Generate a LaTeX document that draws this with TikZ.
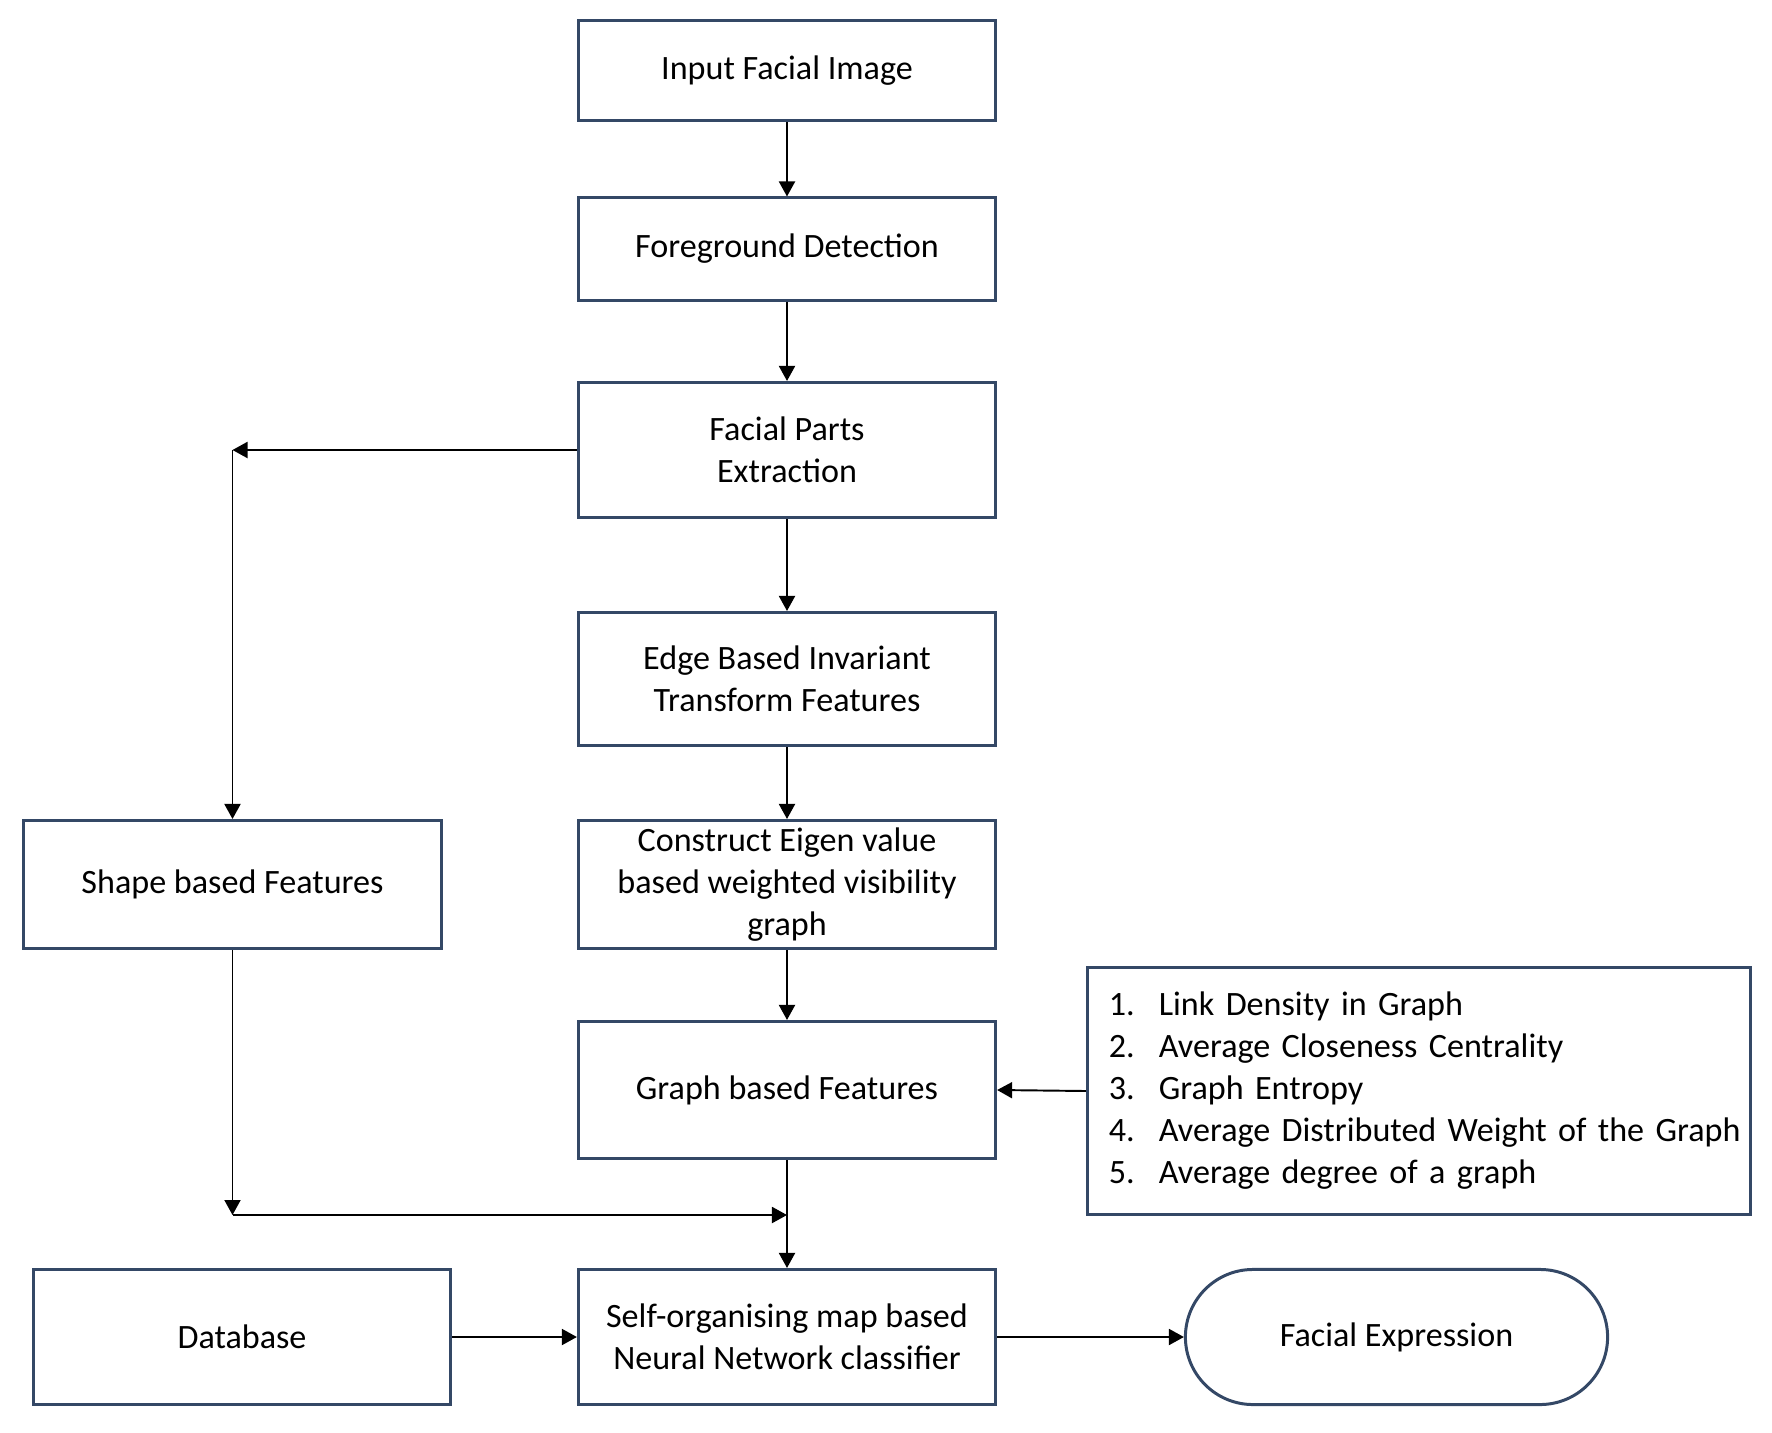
\documentclass[tikz,border=0pt]{standalone}
\usepackage{fontspec}
\setmainfont{Carlito}
\usepackage{tikz}
\usetikzlibrary{arrows.meta}
\usetikzlibrary{positioning}
\usetikzlibrary{shapes.misc}
\definecolor{boxline}{RGB}{52,72,102}

\begin{document}
\begin{tikzpicture}[x=0.01cm,y=-0.01cm,
  font=\fontsize{9.7}{11.9}\selectfont,
  stage/.style={rectangle,draw=boxline,line width=0.85pt,fill=white,minimum width=4.17cm,align=center,inner sep=2pt},
  flow/.style={-{Triangle[length=1.5mm,width=1.6mm]},line width=0.55pt,black}]
\useasboundingbox (0,0) rectangle (1772,1433);
\node[stage,minimum height=1.0cm] (input) at (787,70.5) {Input Facial Image};
\node[stage,minimum height=1.02cm] (fg) at (787,249) {Foreground Detection};
\node[stage,minimum height=1.35cm] (parts) at (787,450) {Facial Parts\\Extraction};
\node[stage,minimum height=1.33cm] (edge) at (787,679) {Edge Based Invariant\\Transform Features};
\node[stage,minimum height=1.28cm] (eigen) at (787,884.5) {Construct Eigen value\\based weighted visibility\\graph};
\node[stage,minimum height=1.37cm] (graph) at (787,1090) {Graph based Features};
\node[stage,minimum height=1.35cm] (som) at (787,1337) {Self-organising map based\\Neural Network classifier};
\node[stage,minimum height=1.28cm] (shape) at (232.5,884.5) {Shape based Features};
\node[stage,minimum height=1.35cm] (db) at (242,1337) {Database};
\node[stage,rounded rectangle,minimum width=4.36cm,minimum height=1.35cm] (expr) at (1396.5,1337) {Facial Expression};
\node[stage,minimum width=6.63cm,minimum height=2.47cm,text width=6.2cm,align=left] (metrics) at (1419,1091)
  {\begin{tabular}{@{}p{0.5cm}@{}l@{}}
  1. & Link Density in Graph\\
  2. & Average Closeness Centrality\\
  3. & Graph Entropy\\
  4. & Average Distributed Weight of the Graph\\
  5. & Average degree of a graph
  \end{tabular}};

\coordinate (split) at (shape.north |- parts.west);
\coordinate (join) at (232.5,1215);
\coordinate (merge) at (graph.south |- join);

\draw[flow] (input) -- (fg);
\draw[flow] (fg) -- (parts);
\draw[flow] (parts) -- (edge);
\draw[flow] (edge) -- (eigen);
\draw[flow] (eigen) -- (graph);
\draw[flow] (graph) -- (som);
\draw[flow] (parts.west) -- (split);
\draw[flow] (split) -- (shape.north);
\draw[flow] (shape.south) -- (join);
\draw[flow] (join) -- (merge);
\draw[flow] (metrics.west) -- (graph.east);
\draw[flow] (db.east) -- (som.west);
\draw[flow] (som.east) -- (expr.west);

\end{tikzpicture}
\end{document}
